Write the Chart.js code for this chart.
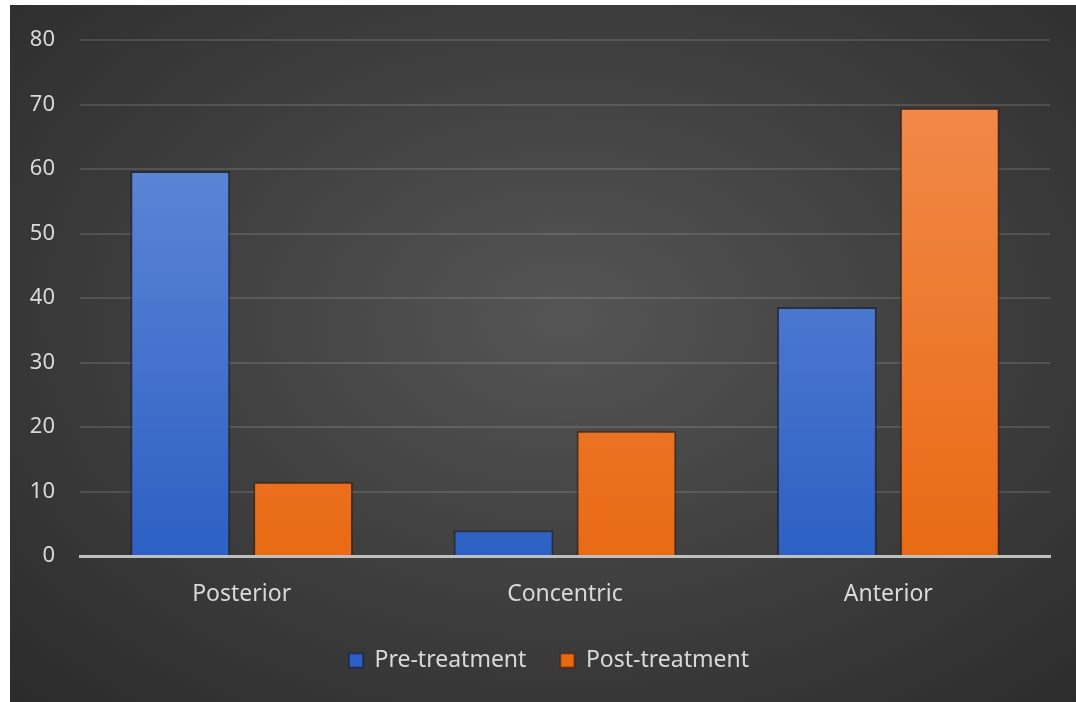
<!DOCTYPE html>
<html>
<head>
<meta charset="utf-8">
<script src="https://cdn.jsdelivr.net/npm/chart.js@4/dist/chart.umd.min.js"></script>
<style>
  html, body { margin: 0; padding: 0; background: #fff; }
  #wrap {
    position: absolute; left: 10px; top: 5px; width: 1066px; height: 697px;
    background: radial-gradient(ellipse at 52% 45%, #555555 0%, #414141 45%, #2b2b2b 100%);
  }
</style>
</head>
<body>
<div id="wrap"><canvas id="chart" width="1066" height="697"></canvas></div>
<script>
const categories = ['Posterior', 'Concentric', 'Anterior'];
const preTreatment = [59.7, 4.0, 38.6];
const postTreatment = [11.5, 19.4, 69.5];
const yTicks = [0, 10, 20, 30, 40, 50, 60, 70, 80];

const labelColor = '#d9d9d9';
const fontFamily = '"Noto Sans", "Open Sans", sans-serif';

// вертикальный градиент по области графика
function barGradient(context, top, bottom) {
    const area = context.chart.chartArea;
    if (!area) return bottom;
    const g = context.chart.ctx.createLinearGradient(0, area.top, 0, area.bottom);
    g.addColorStop(0, top);
    g.addColorStop(1, bottom);
    return g;
}

// сдвигаем легенду немного вправо, как в оригинале
const legendShift = {
    id: 'legendShift',
    afterLayout(chart) {
        chart.legend.left += 19;
        chart.legend.right += 19;
    }
};

const ctx = document.getElementById('chart').getContext('2d');
new Chart(ctx, {
    type: 'bar',
    data: {
        labels: categories,
        datasets: [{
            label: 'Pre-treatment',
            data: preTreatment,
            backgroundColor: c => barGradient(c, '#6a90da', '#2d60c4'),
            borderColor: 'rgba(20,30,60,0.55)',
            borderWidth: 2,
            borderSkipped: 'bottom',
            barPercentage: 0.813,
            categoryPercentage: 0.76
        }, {
            label: 'Post-treatment',
            data: postTreatment,
            backgroundColor: c => barGradient(c, '#f28d50', '#e96a14'),
            borderColor: 'rgba(70,25,5,0.55)',
            borderWidth: 2,
            borderSkipped: 'bottom',
            barPercentage: 0.813,
            categoryPercentage: 0.76
        }]
    },
    options: {
        responsive: false,
        animation: false,
        layout: { padding: { top: 35, right: 26, left: 0, bottom: 20 } },
        scales: {
            x: {
                grid: { display: false, drawTicks: false },
                border: { display: true, color: '#bfbfbf', width: 3 },
                ticks: { color: labelColor, font: { family: fontFamily, size: 23 }, padding: 25 },
                afterFit: scale => { scale.height = 59; }
            },
            y: {
                min: 0,
                max: 80,
                afterBuildTicks: scale => { scale.ticks = yTicks.map(v => ({ value: v })); },
                grid: {
                    drawTicks: false,
                    color: c => c.tick && c.tick.value === 0 ? 'rgba(0,0,0,0)' : 'rgba(255,255,255,0.12)',
                    lineWidth: 2
                },
                border: { display: false },
                ticks: { color: labelColor, font: { family: fontFamily, size: 22 }, padding: 25 },
                afterFit: scale => {
                    scale.width = 70;
                    scale.paddingTop = 14; // не сдвигать верх графика из-за отступа меток
                }
            }
        },
        plugins: {
            legend: {
                position: 'bottom',
                labels: {
                    color: labelColor,
                    font: { family: fontFamily, size: 23 },
                    boxWidth: 14,
                    boxHeight: 14,
                    padding: 34
                }
            },
            tooltip: { enabled: false }
        }
    },
    plugins: [legendShift]
});
</script>
</body>
</html>
